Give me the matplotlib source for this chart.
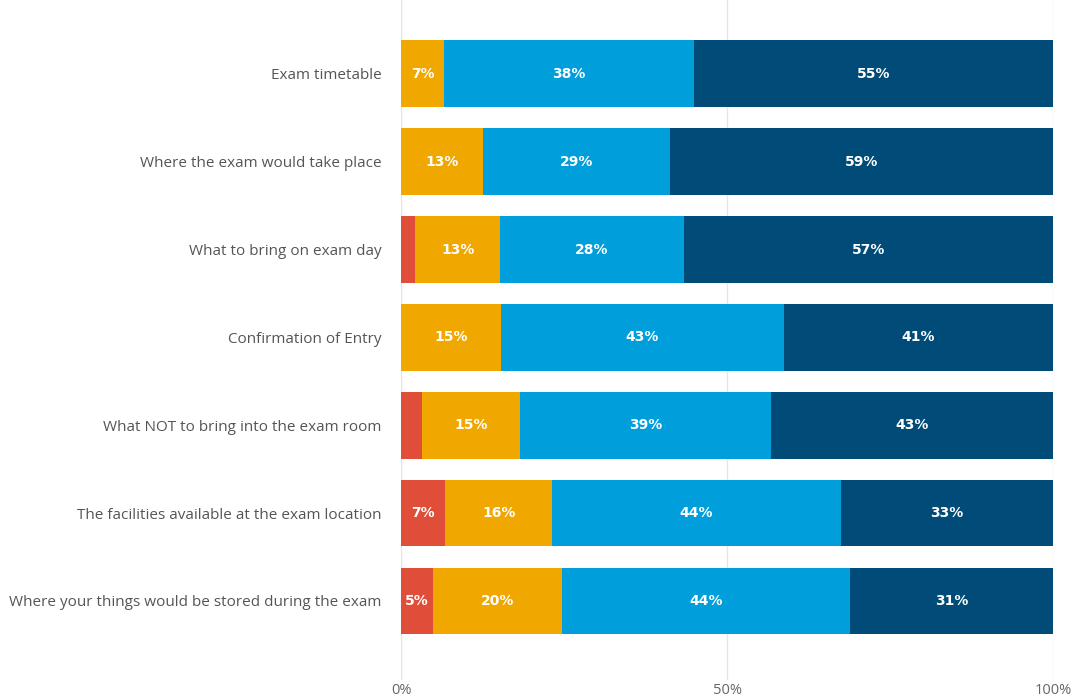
import matplotlib.pyplot as plt
import numpy as np

# survey topics, top to bottom
categories = [
    "Exam timetable",
    "Where the exam would take place",
    "What to bring on exam day",
    "Confirmation of Entry",
    "What NOT to bring into the exam room",
    "The facilities available at the exam location",
    "Where your things would be stored during the exam",
]

# share of responses per segment (%)
red = [0.0, 0.0, 2.2, 0.0, 3.2, 6.8, 4.9]
orange = [6.6, 12.6, 13.0, 15.3, 15.0, 16.4, 19.8]
light_blue = [38.4, 28.6, 28.2, 43.4, 38.6, 44.2, 44.2]
dark_blue = [55.0, 58.8, 56.6, 41.3, 43.2, 32.6, 31.1]

series = [red, orange, light_blue, dark_blue]
colors = ["#E04E39", "#F0A800", "#009EDB", "#004B78"]

fig = plt.figure(figsize=(10.76, 6.99), dpi=100)
ax = fig.add_axes([0.3727, 0.0272, 0.606, 0.9728])

y = np.arange(len(categories))
left = np.zeros(len(categories))
for vals, col in zip(series, colors):
    vals = np.array(vals)
    ax.barh(y, vals, left=left, height=0.76, color=col, zorder=2)
    # only label segments wide enough to hold the text
    for yi, (l, v) in enumerate(zip(left, vals)):
        if v >= 4.5:
            ax.text(l + v / 2, yi, f"{v:.0f}%", ha="center", va="center",
                    color="white", fontsize=10, fontweight="bold", zorder=3)
    left += vals

ax.set_xlim(0, 100)
ax.set_ylim(6.9, -0.84)
ax.set_yticks(y)
ax.set_yticklabels(categories, fontsize=11, color="#555555", family="Open Sans")
ax.set_xticks([0, 50, 100])
ax.set_xticklabels(["0%", "50%", "100%"], fontsize=10.5, color="#666666", family="Open Sans")
ax.tick_params(axis="both", length=0)
ax.tick_params(axis="y", pad=14)
ax.tick_params(axis="x", pad=2)
ax.grid(axis="x", color="#e6e6e6", linewidth=1, zorder=0)
for s in ax.spines.values():
    s.set_visible(False)

fig.savefig("out.png", dpi=100)
